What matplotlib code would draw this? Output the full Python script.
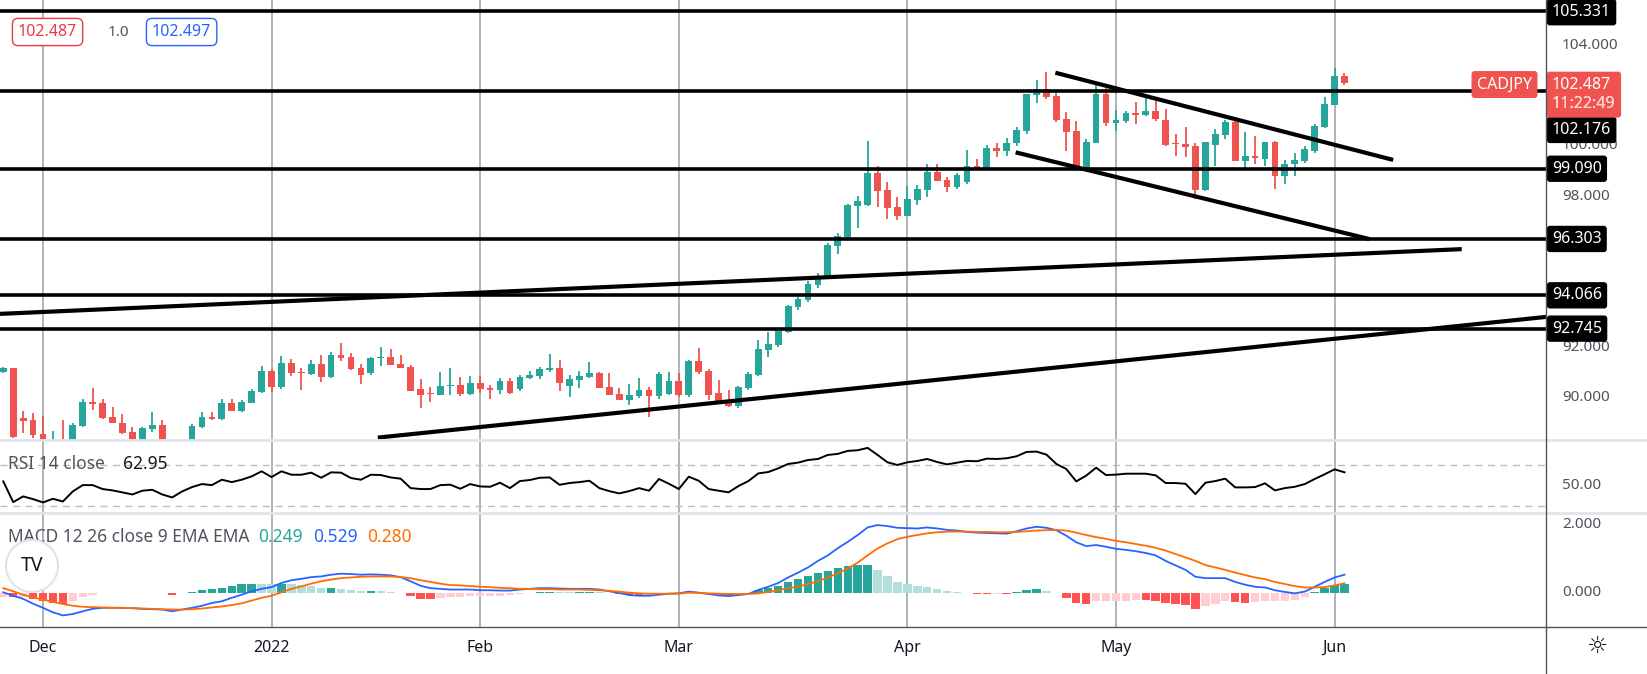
import matplotlib
matplotlib.use("Agg")
import matplotlib.pyplot as plt
import numpy as np
from matplotlib.transforms import blended_transform_factory as btf
from matplotlib.patches import Circle

plt.rcParams['font.family'] = 'Noto Sans'

# ---------------- data ----------------
start_index = -4  # first bar: 25 Nov 2021 (index 0 = 1 Dec 2021)
opens = [91.04,91.18,89.20,89.12,88.56,88.00,88.30,88.20,88.88,89.83,89.79,89.24,89.00,88.64,88.30,88.76,88.92,88.20,88.25,88.30,
         88.85,89.24,89.14,89.79,89.48,89.81,90.24,91.06,90.42,91.38,91.04,90.94,91.34,90.81,91.70,91.60,91.18,90.97,91.58,91.60,
         91.34,91.22,90.35,90.14,90.12,90.47,90.50,90.15,90.59,90.38,90.30,90.66,90.35,90.80,90.86,91.10,91.18,90.47,90.70,90.83,
         90.98,90.43,90.15,89.91,90.07,90.31,90.07,90.15,90.66,90.11,91.46,91.06,90.19,89.91,89.67,90.39,90.89,91.90,92.10,92.61,
         93.62,93.90,94.48,94.84,96.04,96.38,97.62,97.66,98.91,98.25,97.57,97.23,97.86,98.26,98.96,98.64,98.38,98.56,99.20,99.12,
         99.91,99.80,100.10,100.60,102.03,102.25,101.98,101.06,100.59,99.13,100.13,102.06,100.90,100.99,101.30,101.24,101.38,101.02,100.07,100.07,
         99.99,98.25,100.04,100.44,100.94,99.41,99.58,99.48,100.15,98.82,99.28,99.41,99.81,100.76,101.63,102.77]
highs = [91.23,91.20,89.48,89.38,89.28,88.70,89.12,88.99,89.95,90.38,89.95,89.63,89.34,88.85,88.85,89.44,89.12,88.30,88.30,88.96,
         89.42,89.44,89.94,89.94,89.91,90.35,91.26,91.13,91.67,91.54,91.17,91.49,91.70,91.82,92.19,91.78,91.34,91.60,92.00,91.94,
         91.70,91.30,90.75,90.41,91.02,91.18,90.82,90.85,90.86,90.50,90.78,90.78,90.90,91.06,91.22,91.74,91.50,90.90,91.06,91.42,
         91.02,91.00,90.39,90.55,90.78,90.43,91.02,91.02,90.98,91.50,91.98,91.13,90.71,90.30,90.45,91.04,92.30,92.60,92.70,93.68,
         94.00,94.62,94.96,96.16,96.53,97.69,98.00,100.19,99.20,98.55,97.98,98.40,98.43,99.28,99.29,98.78,98.92,99.83,99.48,100.02,
         100.12,100.30,100.73,102.06,102.60,102.93,102.10,101.34,100.99,100.27,102.40,102.30,101.43,101.40,101.72,101.90,101.85,101.47,100.47,100.75,
         100.10,100.15,100.68,101.02,101.00,100.54,100.39,100.15,100.20,99.45,99.70,100.00,100.85,101.93,103.10,102.90]
lows = [90.97,88.40,88.60,88.40,88.00,87.80,87.70,88.00,88.84,89.50,89.16,89.00,88.56,88.20,88.10,88.65,88.10,87.90,87.90,88.20,
        88.80,89.12,89.10,89.47,89.44,89.80,90.20,90.24,90.36,90.88,90.31,90.90,90.64,90.78,91.46,91.10,90.55,90.92,91.25,91.30,
        91.18,90.26,89.60,89.85,90.10,90.12,90.07,90.10,90.20,89.95,90.15,90.15,90.27,90.75,90.75,91.02,90.27,90.03,90.39,90.80,
        90.37,90.10,89.90,89.71,90.00,89.24,89.95,90.10,90.03,90.05,90.96,89.90,89.85,89.64,89.60,90.30,90.85,91.60,92.00,92.58,
        93.48,93.80,94.36,94.82,95.72,96.32,96.75,97.60,97.58,97.10,97.06,97.20,97.64,97.96,98.60,98.17,98.27,98.50,99.10,99.10,
        99.56,99.60,100.00,100.45,101.70,101.87,100.95,99.80,99.00,99.10,100.10,100.80,100.60,100.90,100.87,101.20,101.00,100.00,99.59,99.56,
        97.90,98.20,99.20,100.27,99.40,99.10,99.27,99.20,98.30,98.50,98.80,99.30,99.73,100.70,101.60,102.43]
closes = [91.20,88.46,89.09,88.54,88.30,88.30,88.00,88.92,89.83,89.77,89.21,89.01,88.61,88.35,88.79,88.92,88.30,88.25,88.20,88.88,
          89.24,89.14,89.79,89.49,89.83,90.27,91.06,90.44,91.38,91.00,90.98,91.34,90.84,91.70,91.59,91.14,90.92,91.58,91.60,91.31,
          91.20,90.28,90.12,90.11,90.47,90.50,90.15,90.59,90.36,90.30,90.66,90.19,90.82,90.90,91.14,91.18,90.59,90.75,90.86,90.98,
          90.39,90.11,89.91,90.11,90.31,90.07,90.94,90.66,90.11,91.46,91.04,90.11,89.87,89.67,90.41,90.94,91.92,92.14,92.65,93.64,
          93.93,94.52,94.85,96.06,96.42,97.65,97.81,98.91,98.22,97.55,97.23,97.89,98.29,98.96,98.62,98.38,98.84,99.20,99.12,99.91,
          99.80,100.11,100.63,102.06,102.25,101.95,101.04,100.56,99.15,100.15,102.06,100.92,101.02,101.30,101.24,101.38,101.06,100.04,100.03,99.96,
          98.25,100.15,100.47,100.94,99.41,99.58,99.52,100.15,98.82,99.28,99.44,99.87,100.79,101.66,102.77,102.487]

rsi = [54.2,34.2,39.7,37.1,33.9,37.4,34.8,44.5,50.6,50.6,46.8,45.5,43.5,41.6,45.2,46.1,41.6,38.7,44.5,48.7,
       51.6,50.6,55.8,53.5,55.8,59.0,63.9,58.4,63.9,60.6,60.6,62.6,57.7,62.9,62.6,57.4,55.8,60.6,60.3,58.0,
       56.8,47.7,46.8,46.8,50.6,51.0,47.1,51.6,49.3,49.0,52.9,47.7,54.5,55.5,57.7,58.0,50.9,52.6,53.5,54.8,
       47.7,44.8,42.6,44.8,47.7,45.2,56.5,51.9,46.8,58.7,54.8,46.8,45.2,43.6,49.7,54.5,61.9,63.2,66.8,71.0,
       72.3,74.8,75.8,79.7,80.7,83.6,84.2,86.5,79.7,72.6,70.0,72.6,73.9,75.8,72.9,70.6,72.3,73.9,73.6,76.1,
       75.8,76.5,78.4,82.6,82.9,80.0,71.0,66.1,54.2,59.7,67.4,60.3,60.7,61.6,61.6,61.6,60.0,52.6,52.6,51.9,
       41.9,52.9,54.5,56.8,48.4,48.4,48.7,52.3,45.5,47.7,49.0,51.6,56.5,61.0,65.8,62.95]

macd = [0.02,-0.08,-0.17,-0.31,-0.43,-0.56,-0.65,-0.61,-0.53,-0.46,-0.43,-0.43,-0.43,-0.44,-0.46,-0.47,-0.48,-0.53,-0.48,-0.43,
        -0.37,-0.29,-0.24,-0.14,-0.05,0.05,0.12,0.17,0.29,0.37,0.41,0.46,0.48,0.53,0.56,0.55,0.53,0.54,0.53,0.51,
        0.46,0.34,0.21,0.14,0.12,0.10,0.10,0.10,0.08,0.08,0.07,0.07,0.10,0.12,0.14,0.14,0.13,0.12,0.12,0.12,
        0.10,0.05,0.00,-0.06,-0.08,-0.08,-0.05,-0.02,-0.01,0.04,0.01,-0.03,-0.07,-0.09,-0.06,-0.03,0.09,0.18,0.29,0.45,
        0.59,0.74,0.93,1.09,1.30,1.48,1.68,1.90,1.97,1.94,1.89,1.88,1.87,1.90,1.87,1.83,1.81,1.77,1.75,1.74,
        1.73,1.72,1.79,1.87,1.92,1.89,1.82,1.66,1.47,1.36,1.39,1.34,1.28,1.25,1.21,1.16,1.09,0.93,0.80,0.67,
        0.47,0.43,0.43,0.43,0.32,0.24,0.18,0.16,0.08,0.03,-0.01,0.04,0.18,0.32,0.45,0.529]
signal = [0.14,0.05,-0.05,-0.13,-0.19,-0.26,-0.32,-0.37,-0.40,-0.41,-0.42,-0.43,-0.43,-0.44,-0.45,-0.46,-0.47,-0.48,-0.48,-0.47,
          -0.45,-0.42,-0.39,-0.35,-0.30,-0.22,-0.14,-0.08,0.02,0.12,0.19,0.27,0.34,0.39,0.43,0.45,0.47,0.48,0.48,0.48,
          0.46,0.43,0.37,0.32,0.27,0.23,0.22,0.20,0.18,0.17,0.15,0.14,0.12,0.12,0.11,0.11,0.10,0.10,0.10,0.09,
          0.08,0.06,0.04,0.01,-0.01,-0.02,-0.02,-0.02,-0.02,0.01,0.00,-0.01,-0.02,-0.03,-0.03,-0.03,-0.01,0.03,0.08,0.14,
          0.18,0.26,0.34,0.45,0.57,0.71,0.88,1.09,1.29,1.44,1.56,1.63,1.68,1.73,1.76,1.78,1.78,1.78,1.77,1.77,
          1.76,1.76,1.77,1.79,1.81,1.82,1.83,1.81,1.75,1.68,1.62,1.57,1.51,1.47,1.42,1.37,1.31,1.23,1.13,1.03,
          0.93,0.81,0.74,0.67,0.59,0.52,0.45,0.40,0.32,0.26,0.20,0.16,0.16,0.17,0.22,0.280]

levels = [105.331, 102.176, 99.090, 96.303, 94.066, 92.745]
level_labels = ["105.331", "102.176", "99.090", "96.303", "94.066", "92.745"]
level_label_at = [105.30, 100.63, 99.09, 96.303, 94.066, 92.745]
# trend lines: (bar0, price0, bar1, price1)
trend_lines = [(-4.33, 93.33, 142.8, 95.90),
               (33.7, 88.42, 151.3, 93.21),
               (101.9, 102.90, 135.9, 99.44),
               (97.9, 99.74, 133.5, 96.30)]
month_labels = ["Dec", "2022", "Feb", "Mar", "Apr", "May", "Jun"]
month_bars = [0, 23, 44, 64, 87, 108, 130]
price_ticks = [104, 100, 98, 92, 90]
last_price = 102.487
ask_price = 102.497

# ---------------- figure ----------------
W, H = 1647, 674
fig = plt.figure(figsize=(W/100, H/100), dpi=100)
fig.patch.set_facecolor('white')

def fx(x): return x / W
def fy(y): return 1 - y / H

AX_R = 1546
def make_ax(y0, y1):
    return fig.add_axes([0, fy(y1), fx(AX_R), (y1 - y0) / H])

ax = make_ax(0, 440)
axr = make_ax(440, 513)
axm = make_ax(513, 627)

n = min(len(opens), len(highs), len(lows), len(closes))
x = np.arange(start_index, start_index + n)
o = np.array(opens[:n]); h = np.array(highs[:n]); l = np.array(lows[:n]); c = np.array(closes[:n])
UP, DN = '#26a69a', '#ef5350'
cols = np.where(c >= o, UP, DN)

XMIN, XMAX = (0 - 43) / 9.935, (AX_R - 43) / 9.935
for a in (ax, axr, axm):
    a.set_xlim(XMIN, XMAX)
    for s in a.spines.values():
        s.set_visible(False)
    a.set_xticks([]); a.set_yticks([])
    for mb in month_bars:
        a.axvline(mb, color='#a3a6af', lw=1.2, zorder=0)

ax.set_ylim(88.325, 105.786)
ax.vlines(x, l, h, colors=cols, lw=1.3, zorder=2)
body = np.where(np.abs(c - o) < 0.04, 0.04, c - o)
ax.bar(x, body, bottom=o, width=0.68, color=cols, zorder=3)

for lv in levels:
    ax.axhline(lv, color='black', lw=2.6, zorder=4)
for (b0, p0, b1, p1) in trend_lines:
    ax.plot([b0, b1], [p0, p1], color='black', lw=3.0, solid_capstyle='butt', zorder=4)

tr = btf(ax.transAxes, ax.transData)
for lab, ly in zip(level_labels, level_label_at):
    ax.text(1.0 + 6/AX_R, ly, lab, transform=tr, ha='left', va='center', color='white',
            fontsize=11.5, fontweight='bold', clip_on=False, zorder=10,
            bbox=dict(boxstyle='round,pad=0.28,rounding_size=0.15', fc='black', ec='black'))
for t in price_ticks:
    ax.text(1.0 + 16/AX_R, t, f"{t:.3f}", transform=tr, ha='left', va='center', color='#50535e',
            fontsize=11, clip_on=False, zorder=5)
# last price label (two lines in one red box)
ax.text(1.0 + 6/AX_R, 102.03, f"{last_price:.3f}\n11:22:49", transform=tr, ha='left', va='center', color='white',
        fontsize=11.5, fontweight='bold', clip_on=False, zorder=11, linespacing=1.25,
        bbox=dict(boxstyle='round,pad=0.3,rounding_size=0.15', fc='#ef5350', ec='#ef5350'))
ax.text(1.0 + 6/AX_R, 102.03, "\n11:22:49", transform=tr, ha='left', va='center', color='#fbd0cf',
        fontsize=11.5, fontweight='bold', clip_on=False, zorder=12, linespacing=1.25)
ax.text(1.0 - 14/AX_R, 102.43, "CADJPY", transform=tr, ha='right', va='center', color='white',
        fontsize=11.5, fontweight='bold', clip_on=False, zorder=11,
        bbox=dict(boxstyle='round,pad=0.3,rounding_size=0.15', fc='#ef5350', ec='#ef5350'))

# top-left price boxes
fig.text(fx(18), fy(32), f"{last_price:.3f}", color='#f23645', fontsize=11.5, va='center', ha='left',
         bbox=dict(boxstyle='round,pad=0.35', fc='white', ec='#f23645', lw=1))
fig.text(fx(108), fy(32), "1.0", color='#50535e', fontsize=11, va='center', ha='left')
fig.text(fx(152), fy(32), f"{ask_price:.3f}", color='#2962ff', fontsize=11.5, va='center', ha='left',
         bbox=dict(boxstyle='round,pad=0.35', fc='white', ec='#2962ff', lw=1))

# RSI
axr.set_ylim(23.7, 94.1)
nr = min(len(rsi), n)
axr.plot(x[:nr], rsi[:nr], color='black', lw=1.4, zorder=3)
for lvl in (70, 30):
    axr.axhline(lvl, color='#bdbdbd', lw=1, ls=(0, (5, 4)), zorder=1)
trr = btf(axr.transAxes, axr.transData)
axr.text(8/AX_R, 70.5, "RSI 14 close", transform=trr, fontsize=12.5, color='#50535e', va='center')
axr.text(123/AX_R, 70.5, f"{rsi[nr-1]:.2f}", transform=trr, fontsize=12.5, color='#131722', va='center')
axr.text(1.0 + 16/AX_R, 50, "50.00", transform=trr, ha='left', va='center',
         color='#50535e', fontsize=11, clip_on=False)

# MACD
axm.set_ylim(-0.986, 2.319)
nm = min(len(macd), len(signal), n)
mac = np.array(macd[:nm]); sig = np.array(signal[:nm]); hist = mac - sig
hcols = []
for k in range(nm):
    prev = hist[k-1] if k > 0 else hist[k]
    if hist[k] >= 0:
        hcols.append('#26a69a' if hist[k] >= prev else '#b2dfdb')
    else:
        hcols.append('#ffcdd2' if hist[k] >= prev else '#ff5252')
axm.bar(x[:nm], hist, width=0.85, color=hcols, zorder=2)
axm.plot(x[:nm], mac, color='#2962ff', lw=1.3, zorder=3)
axm.plot(x[:nm], sig, color='#ff6d00', lw=1.3, zorder=3)
trm = btf(axm.transAxes, axm.transData)
axm.text(8/AX_R, 1.62, "MACD 12 26 close 9 EMA EMA", transform=trm, fontsize=12.5, color='#50535e', va='center')
axm.text(258/AX_R, 1.62, f"{hist[-1]:.3f}", transform=trm, fontsize=12.5, color='#26a69a', va='center')
axm.text(313/AX_R, 1.62, f"{mac[-1]:.3f}", transform=trm, fontsize=12.5, color='#2962ff', va='center')
axm.text(367/AX_R, 1.62, f"{sig[-1]:.3f}", transform=trm, fontsize=12.5, color='#ff6d00', va='center')
for t in (2.0, 0.0):
    axm.text(1.0 + 16/AX_R, t, f"{t:.3f}", transform=trm, ha='left', va='center', color='#50535e',
             fontsize=11, clip_on=False)
# logo
logo = Circle((32, H - 566), 26, transform=None, fc='white', ec='#e0e3eb', lw=1.5, zorder=20)
fig.patches.append(logo)
fig.text(fx(32), fy(566), "TV", ha='center', va='center', fontsize=14, fontweight='heavy', color='#131722', zorder=21)

# separators
for yy in (440, 513):
    fig.add_artist(plt.Line2D([0, 1], [fy(yy), fy(yy)], color='#e0e3eb', lw=2))
fig.add_artist(plt.Line2D([0, 1], [fy(627), fy(627)], color='#50535e', lw=1))
fig.add_artist(plt.Line2D([fx(AX_R), fx(AX_R)], [fy(674), 1], color='#50535e', lw=1))

# x labels
for lab, mb in zip(month_labels, month_bars):
    xpix = 43 + 9.935 * mb
    fig.text(fx(xpix), fy(648), lab, ha='center', va='center', fontsize=11.5, color='#131722',
             fontweight='bold' if lab.isdigit() else 'normal')
fig.text(fx(1597), fy(646), "☼", ha='center', va='center', fontsize=17, color='#131722', family='DejaVu Sans')

fig.savefig("out.png", dpi=100, facecolor='white')
